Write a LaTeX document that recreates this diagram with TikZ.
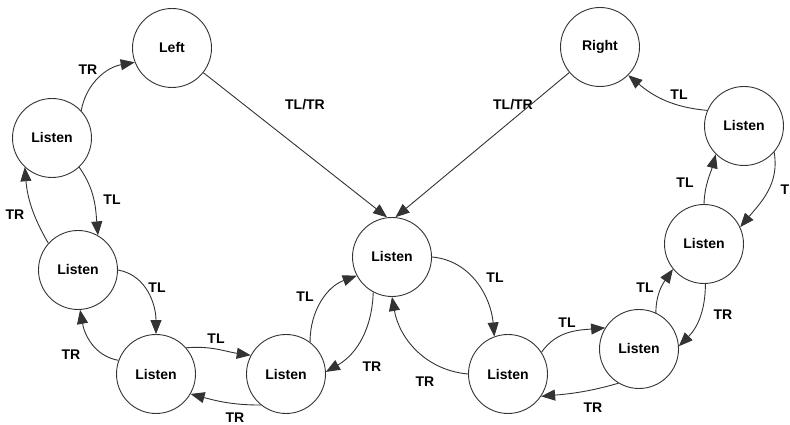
\documentclass[tikz,border=0pt]{standalone}
\usepackage{fontspec}
\setmainfont{Liberation Sans}
\usetikzlibrary{arrows.meta}
\begin{document}
\begin{tikzpicture}[x=1pt,y=1pt,
  state/.style={circle,draw=black!80,line width=0.9pt,minimum size=79pt,inner sep=0pt,font=\fontsize{14}{16}\selectfont\bfseries},
  lbl/.style={font=\fontsize{14}{16}\selectfont\bfseries,inner sep=0pt},
  edge/.style={draw=black!80,line width=0.9pt,-{Triangle[length=14pt,width=11pt]}}]
\useasboundingbox (0,0) rectangle (790,425);
% states
\node[state] (Left)  at (172,377) {Left};
\node[state] (Right) at (600,378) {Right};
\node[state] (LT)  at (52,287)  {Listen};
\node[state] (LM)  at (78,155)  {Listen};
\node[state] (LB)  at (156,51)  {Listen};
\node[state] (BCL) at (286,51)  {Listen};
\node[state] (C)   at (392,168) {Listen};
\node[state] (BCR) at (508,51)  {Listen};
\node[state] (RB)  at (639,76)  {Listen};
\node[state] (RM)  at (704,181) {Listen};
\node[state] (RT)  at (744,299) {Listen};
% labels
\node[lbl] (l1)  at (88,355)  {TR};
\node[lbl] (l2)  at (112,225) {TL};
\node[lbl] (l3)  at (15,210)  {TR};
\node[lbl] (l4)  at (157,137) {TL};
\node[lbl] (l5)  at (71,70)   {TR};
\node[lbl] (l6)  at (216,86)  {TL};
\node[lbl] (l7)  at (235,7)   {TR};
\node[lbl] (l8)  at (305,128) {TL};
\node[lbl] (l9)  at (372,58)  {TR};
\node[lbl] (l10) at (495,147) {TL};
\node[lbl] (l11) at (425,43)  {TR};
\node[lbl] (l12) at (305,320) {TL/TR};
\node[lbl] (l13) at (513,320) {TL/TR};
\node[lbl] (l14) at (567,102) {TL};
\node[lbl] (l15) at (593,17)  {TR};
\node[lbl] (l16) at (645,137) {TL};
\node[lbl] (l17) at (723,110) {TR};
\node[lbl] (l18) at (685,242) {TL};
\node[lbl] (l19) at (785,235) {T};
\node[lbl] (l20) at (679,330) {TL};
% edges
\draw[edge] (LT.43) to[out=80,in=190] (Left.201);
\draw[edge] (LT.-47) to[out=-55,in=95] (LM.60);
\draw[edge] (LM.138) to[out=120,in=-85] (LT.-133);
\draw[edge] (LM.0) to[out=-10,in=90] (LB.90);
\draw[edge] (LB.160) to[out=170,in=-80] (LM.-87);
\draw[edge] (LB.41) to[out=5,in=172] (BCL.152);
\draw[edge] (BCL.-129) to[out=180,in=-15] (LB.-30);
\draw[edge] (BCL.53) to[out=90,in=200] (C.208);
\draw[edge] (C.-118) to[out=-92,in=30] (BCL.3);
\draw[edge] (C.0) to[out=-5,in=95] (BCR.110);
\draw[edge] (BCR.180) to[out=175,in=-80] (C.-90);
\draw[edge] (Left) -- (C.97);
\draw[edge] (Right) -- (C.85);
\draw[edge] (BCR.33) to[out=55,in=185] (RB.148);
\draw[edge] (RB.-121) to[out=196,in=5] (BCR.-34);
\draw[edge] (RB.65) to[out=90,in=235] (RM.219);
\draw[edge] (RM.-88) to[out=-90,in=45] (RB.4);
\draw[edge] (RM.90) to[out=88,in=255] (RT.225);
\draw[edge] (RT.-41) to[out=-80,in=50] (RM.25);
\draw[edge] (RT.157) to[out=175,in=-40] (Right.-45);
\end{tikzpicture}
\end{document}
